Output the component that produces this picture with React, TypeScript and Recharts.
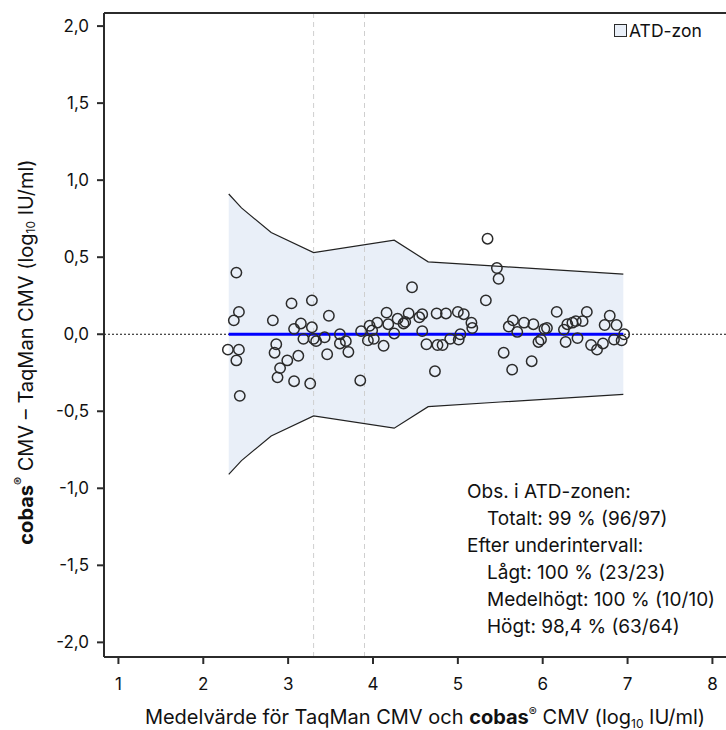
import {
  ComposedChart,
  Area,
  Scatter,
  XAxis,
  YAxis,
  ReferenceLine,
} from 'recharts';

// ATD-zone limits along the measuring range
const bandX = [2.3, 2.45, 2.8, 3.3, 4.25, 4.65, 5.5, 6.95];
const bandUpper = [0.91, 0.82, 0.66, 0.53, 0.61, 0.47, 0.44, 0.39];
const bandLower = [-0.91, -0.82, -0.66, -0.53, -0.61, -0.47, -0.44, -0.39];

// mean of the two assays (log10 IU/ml)
const meanValues = [
  2.29, 2.36, 2.39, 2.39, 2.42, 2.42, 2.43, 2.82, 2.84, 2.86, 2.875, 2.905,
  2.99, 3.04, 3.07, 3.07, 3.12, 3.15, 3.18, 3.26, 3.28, 3.28, 3.3, 3.33, 3.43,
  3.46, 3.48, 3.61, 3.61, 3.68, 3.71, 3.85, 3.86, 3.94, 3.96, 3.99, 4.01, 4.05,
  4.125, 4.16, 4.18, 4.25, 4.29, 4.36, 4.38, 4.42, 4.46, 4.545, 4.58, 4.58,
  4.63, 4.73, 4.75, 4.76, 4.82, 4.86, 4.91, 5.0, 5.01, 5.03, 5.07, 5.16, 5.17,
  5.33, 5.35, 5.46, 5.48, 5.54, 5.6, 5.64, 5.65, 5.7, 5.78, 5.87, 5.89, 5.95,
  5.98, 6.02, 6.05, 6.165, 6.25, 6.27, 6.29, 6.35, 6.39, 6.41, 6.47, 6.52,
  6.57, 6.64, 6.71, 6.73, 6.79, 6.84, 6.87, 6.93, 6.96,
];

// cobas CMV minus TaqMan CMV
const diffValues = [
  -0.1, 0.09, 0.4, -0.17, 0.145, -0.1, -0.4, 0.09, -0.12, -0.065, -0.28, -0.22,
  -0.17, 0.2, 0.035, -0.305, -0.14, 0.07, -0.03, -0.32, 0.22, 0.045, -0.03,
  -0.045, -0.02, -0.13, 0.12, 0.0, -0.06, -0.045, -0.115, -0.3, 0.02, -0.04,
  0.055, 0.025, -0.03, 0.075, -0.075, 0.14, 0.065, 0.005, 0.1, 0.07, 0.08,
  0.135, 0.305, 0.11, 0.13, 0.02, -0.065, -0.24, 0.135, -0.07, -0.07, 0.135,
  -0.03, 0.145, -0.035, 0.0, 0.13, 0.075, 0.04, 0.22, 0.62, 0.43, 0.36, -0.12,
  0.05, -0.23, 0.09, 0.015, 0.075, -0.175, 0.065, -0.05, -0.035, 0.035, 0.04,
  0.145, 0.03, -0.05, 0.065, 0.075, 0.085, -0.025, 0.085, 0.145, -0.07, -0.1,
  -0.06, 0.06, 0.12, -0.035, 0.06, -0.04, 0.0,
];

const xTicks = [1, 2, 3, 4, 5, 6, 7, 8];
const yTicks = [-2, -1.5, -1, -0.5, 0, 0.5, 1, 1.5, 2];
const subRangeCuts = [3.3, 3.9];
const biasRange = [2.3, 6.95];

const summaryLines = [
  { text: 'Obs. i ATD-zonen:', indent: false },
  { text: 'Totalt: 99 % (96/97)', indent: true },
  { text: 'Efter underintervall:', indent: false },
  { text: 'Lågt: 100 % (23/23)', indent: true },
  { text: 'Medelhögt: 100 % (10/10)', indent: true },
  { text: 'Högt: 98,4 % (63/64)', indent: true },
];

const FONT = 'Inter, "Liberation Sans", Arial, sans-serif';
const INK = '#2b2b2b';
const BAND = '#e9eff8';

const bandData = bandX.map((x, i) => ({ x, range: [bandLower[i], bandUpper[i]] }));
const points = meanValues.map((x, i) => ({ x, y: diffValues[i] }));

const fmt = (v: number) => v.toFixed(1).replace('.', ',');

const OpenCircle = (props: any) => (
  <circle cx={props.cx} cy={props.cy} r={5.2} fill="none" stroke={INK} strokeWidth={1.5} />
);

const YTitle = () => (
  <text
    x={26}
    y={352}
    transform="rotate(-90, 26, 352)"
    textAnchor="middle"
    dominantBaseline="central"
    fontFamily={FONT}
    fontSize={20}
    fill="#111"
  >
    <tspan fontWeight="bold">cobas</tspan>
    <tspan fontSize={12} dy={-8}>®</tspan>
    <tspan dy={8}> CMV – TaqMan CMV (log</tspan>
    <tspan fontSize={12} dy={4}>10</tspan>
    <tspan dy={-4}> IU/ml)</tspan>
  </text>
);

const XTitle = () => (
  <text x={425} y={724} textAnchor="middle" fontFamily={FONT} fontSize={20} fill="#111">
    <tspan>Medelvärde för TaqMan CMV och </tspan>
    <tspan fontWeight="bold">cobas</tspan>
    <tspan fontSize={12} dy={-8}>®</tspan>
    <tspan dy={8}> CMV (log</tspan>
    <tspan fontSize={12} dy={4}>10</tspan>
    <tspan dy={-4}> IU/ml)</tspan>
  </text>
);

export default function App() {
  return (
    <div style={{ position: 'absolute', left: 0, top: 0, width: 726, height: 730 }}>
      <ComposedChart
        width={726}
        height={730}
        data={bandData}
        margin={{ top: 13, right: 0, bottom: 0, left: 0 }}
      >
        <XAxis
          type="number"
          dataKey="x"
          domain={[0.83, 8.16]}
          ticks={xTicks}
          allowDataOverflow
          height={73}
          tickSize={7}
          tickMargin={14}
          stroke={INK}
          strokeWidth={2}
          tick={{ fill: '#111', fontSize: 17, fontFamily: FONT }}
          label={<XTitle />}
        />
        <YAxis
          type="number"
          domain={[-2.095, 2.085]}
          ticks={yTicks}
          allowDataOverflow
          width={104}
          tickSize={7}
          tickMargin={8}
          tickFormatter={fmt}
          stroke={INK}
          strokeWidth={2}
          tick={{ fill: '#111', fontSize: 17, fontFamily: FONT }}
          label={<YTitle />}
        />
        <Area
          dataKey="range"
          type="linear"
          fill={BAND}
          fillOpacity={1}
          stroke="#222"
          strokeWidth={1.2}
          isAnimationActive={false}
          activeDot={false}
        />
        {subRangeCuts.map((c) => (
          <ReferenceLine key={c} x={c} stroke="#cfcfcf" strokeDasharray="5 4" strokeWidth={1} />
        ))}
        <ReferenceLine y={0} stroke="#111" strokeDasharray="2 2" strokeWidth={1.2} />
        <ReferenceLine
          segment={[
            { x: biasRange[0], y: 0 },
            { x: biasRange[1], y: 0 },
          ]}
          stroke="#0000ff"
          strokeWidth={3}
        />
        <ReferenceLine y={2.085} stroke={INK} strokeWidth={2} />
        <Scatter data={points} dataKey="y" shape={OpenCircle} isAnimationActive={false} />
      </ComposedChart>
      <div
        style={{
          position: 'absolute',
          left: 614,
          top: 20,
          display: 'flex',
          alignItems: 'center',
          fontFamily: FONT,
          fontSize: 17.5,
          color: '#111',
        }}
      >
        <span
          style={{
            display: 'inline-block',
            width: 11,
            height: 11,
            background: BAND,
            border: `1px solid ${INK}`,
            marginRight: 2,
          }}
        />
        ATD-zon
      </div>
      <div
        style={{
          position: 'absolute',
          left: 467,
          top: 478,
          fontFamily: FONT,
          fontSize: 19,
          lineHeight: '27px',
          color: '#111',
          whiteSpace: 'nowrap',
        }}
      >
        {summaryLines.map((l) => (
          <div key={l.text} style={{ paddingLeft: l.indent ? 20 : 0 }}>
            {l.text}
          </div>
        ))}
      </div>
    </div>
  );
}
